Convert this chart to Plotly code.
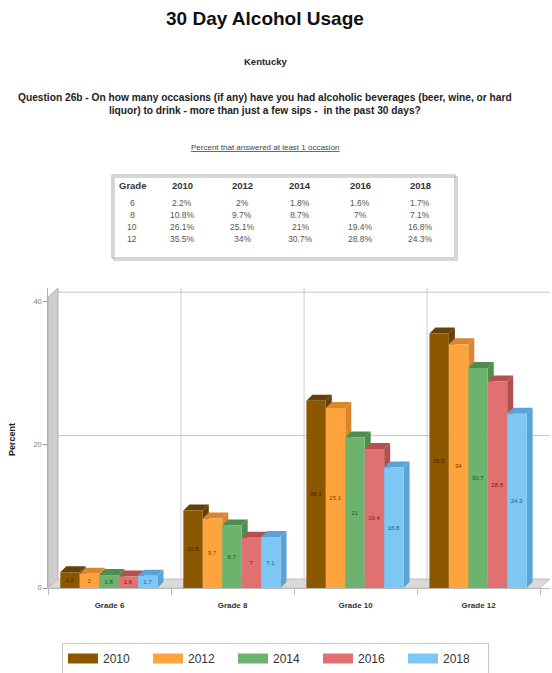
import plotly.graph_objects as go

# ---- data -------------------------------------------------------------
grades = ["Grade 6", "Grade 8", "Grade 10", "Grade 12"]
grade_nums = ["6", "8", "10", "12"]
years = ["2010", "2012", "2014", "2016", "2018"]
pct_2010 = [2.2, 10.8, 26.1, 35.5]
pct_2012 = [2.0, 9.7, 25.1, 34.0]
pct_2014 = [1.8, 8.7, 21.0, 30.7]
pct_2016 = [1.6, 7.0, 19.4, 28.8]
pct_2018 = [1.7, 7.1, 16.8, 24.3]
series = [pct_2010, pct_2012, pct_2014, pct_2016, pct_2018]
y_ticks = [0, 20, 40]

# ---- styling ----------------------------------------------------------
front_colors = ["#8b5800", "#ffa33d", "#6db26d", "#e07170", "#7dc7f5"]
shade_colors = ["#66400a", "#d9862c", "#4e8c4f", "#b5504f", "#5aa3d6"]
label_colors = ["#3a2300", "#7a4200", "#1d561d", "#7d1818", "#1b5a90"]
FONT = "Liberation Sans, Arial, sans-serif"

W, H = 552, 673
M_L, M_R, M_T, M_B = 48, 2, 288, 85
PLOT_W = W - M_L - M_R
PLOT_H = H - M_T - M_B
X_RANGE = [-0.5, 3.58]
Y_RANGE = [0, 41.84]
PX_X = PLOT_W / (X_RANGE[1] - X_RANGE[0])
PX_Y = PLOT_H / (Y_RANGE[1] - Y_RANGE[0])

# depth of the pseudo-3D bars and of the chart box
BAR_DX, BAR_DY = 6 / PX_X, 6 / PX_Y
WALL_DX, WALL_DY = 10 / PX_X, 9 / PX_Y

BAR_W = 0.158
GROUP_START = -0.40


def paper_x(px):
    return (px - M_L) / PLOT_W


def paper_y(py):
    return (H - M_B - py) / PLOT_H


def poly(pts):
    return "M " + " L ".join(f"{x:.4f},{y:.4f}" for x, y in pts) + " Z"


shapes = []

# left wall
x_l = X_RANGE[0]
shapes.append(dict(type="path", xref="x", yref="y", layer="below",
                   path=poly([(x_l, 0), (x_l + WALL_DX, WALL_DY),
                              (x_l + WALL_DX, Y_RANGE[1]),
                              (x_l, Y_RANGE[1] - WALL_DY)]),
                   fillcolor="#cdcdcd", line=dict(color="#b3b3b3", width=1)))
# floor
shapes.append(dict(type="path", xref="x", yref="y", layer="below",
                   path=poly([(x_l, 0), (x_l + WALL_DX, WALL_DY),
                              (X_RANGE[1], WALL_DY), (X_RANGE[1] - WALL_DX, 0)]),
                   fillcolor="#dadada", line=dict(color="#c0c0c0", width=1)))
# back-wall grid
for b in [0.5, 1.5, 2.5]:
    shapes.append(dict(type="line", xref="x", yref="y", layer="below",
                       x0=b + WALL_DX, x1=b + WALL_DX, y0=WALL_DY, y1=Y_RANGE[1],
                       line=dict(color="#cccccc", width=1)))
for t in y_ticks[1:]:
    shapes.append(dict(type="line", xref="x", yref="y", layer="below",
                       x0=x_l + WALL_DX, x1=X_RANGE[1], y0=t + WALL_DY, y1=t + WALL_DY,
                       line=dict(color="#c4c4c4", width=1)))

# top and side faces of each bar
for g in range(len(grades)):
    for k, vals in enumerate(series):
        v = vals[g]
        x0 = g + GROUP_START + k * BAR_W
        x1 = x0 + BAR_W
        shapes.append(dict(type="path", xref="x", yref="y", layer="below",
                           path=poly([(x1, 0), (x1 + BAR_DX, BAR_DY),
                                      (x1 + BAR_DX, v + BAR_DY), (x1, v)]),
                           fillcolor=shade_colors[k], line=dict(width=0)))
        shapes.append(dict(type="path", xref="x", yref="y", layer="below",
                           path=poly([(x0, v), (x0 + BAR_DX, v + BAR_DY),
                                      (x1 + BAR_DX, v + BAR_DY), (x1, v)]),
                           fillcolor=shade_colors[k], line=dict(width=0)))

fig = go.Figure()

for k, (yr, vals) in enumerate(zip(years, series)):
    xs = [g + GROUP_START + (k + 0.5) * BAR_W for g in range(len(grades))]
    fig.add_trace(go.Bar(
        x=xs, y=vals, width=BAR_W, name=yr, showlegend=False,
        marker=dict(color=front_colors[k], line=dict(width=0)),
        text=[f"{v:g}" for v in vals], textposition="inside",
        insidetextanchor="middle", textangle=0, constraintext="none",
        textfont=dict(family=FONT, size=6, color=label_colors[k]),
        hoverinfo="skip",
    ))

# legend entries
for k, yr in enumerate(years):
    fig.add_trace(go.Scatter(x=[None], y=[None], mode="lines", name=yr,
                             line=dict(color=front_colors[k], width=10),
                             hoverinfo="skip"))

annotations = []
annotations.append(dict(text="<b>30 Day Alcohol Usage</b>", x=paper_x(265), y=paper_y(18),
                        font=dict(family=FONT, size=19, color="#111")))
annotations.append(dict(text="<b>Kentucky</b>", x=paper_x(265), y=paper_y(62),
                        font=dict(family=FONT, size=9.5, color="#222")))
annotations.append(dict(
    text="<b>Question 26b - On how many occasions (if any) have you had alcoholic beverages (beer, wine, or hard"
         "<br>liquor) to drink - more than just a few sips -  in the past 30 days?</b>",
    x=paper_x(265), y=paper_y(104), font=dict(family=FONT, size=10.2, color="#222")))
annotations.append(dict(text="<u>Percent that answered at least 1 occasion</u>",
                        x=paper_x(265), y=paper_y(147),
                        font=dict(family=FONT, size=8, color="#444")))

# summary table
col_x = [132, 182, 242, 300, 360, 420]
row_y = [186, 203, 215, 227, 239]
header = ["Grade"] + years
for c, txt in enumerate(header):
    annotations.append(dict(text=f"<b>{txt}</b>", x=paper_x(col_x[c]), y=paper_y(row_y[0]),
                            font=dict(family=FONT, size=9.5, color="#333")))
for r, gnum in enumerate(grade_nums):
    cells = [gnum] + [f"{vals[r]:g}%" for vals in series]
    for c, txt in enumerate(cells):
        annotations.append(dict(text=txt, x=paper_x(col_x[c]), y=paper_y(row_y[r + 1]),
                                font=dict(family=FONT, size=8.5, color="#555")))
shapes.append(dict(type="rect", xref="paper", yref="paper",
                   x0=paper_x(114), x1=paper_x(457), y0=paper_y(260), y1=paper_y(177),
                   line=dict(color="#d8d8d8", width=2), fillcolor="rgba(0,0,0,0)"))
shapes.append(dict(type="rect", xref="paper", yref="paper",
                   x0=paper_x(112), x1=paper_x(455), y0=paper_y(258), y1=paper_y(175),
                   line=dict(color="#aaaaaa", width=1), fillcolor="rgba(0,0,0,0)"))

annotations.append(dict(text="<b>Percent</b>", x=paper_x(12), y=paper_y(440), textangle=-90,
                        font=dict(family=FONT, size=9, color="#222")))

for a in annotations:
    a.update(xref="paper", yref="paper", showarrow=False, xanchor="center", yanchor="middle")

fig.update_layout(
    width=W, height=H, autosize=False,
    margin=dict(l=M_L, r=M_R, t=M_T, b=M_B, autoexpand=False),
    paper_bgcolor="white", plot_bgcolor="white",
    barmode="overlay",
    showlegend=True,
    legend=dict(orientation="h", x=paper_x(62), y=paper_y(643), xanchor="left", yanchor="top",
                bordercolor="#c8c8c8", borderwidth=1, bgcolor="white",
                entrywidth=40, entrywidthmode="pixels",
                font=dict(family=FONT, size=12, color="#333")),
    xaxis=dict(range=X_RANGE, tickmode="array", tickvals=list(range(len(grades))),
               ticktext=grades, showgrid=False, zeroline=False,
               showline=True, linecolor="#bdbdbd", linewidth=1,
               ticks="outside", ticklen=9, tickcolor="rgba(0,0,0,0)",
               tickfont=dict(family=FONT, size=8, color="#333", weight="bold"),
               minor=dict(tickvals=[-0.5, 0.5, 1.5, 2.5, 3.5], ticks="outside",
                          ticklen=6, tickcolor="#bbbbbb", showgrid=False),
               fixedrange=True),
    yaxis=dict(range=Y_RANGE, tickmode="array", tickvals=y_ticks,
               showgrid=False, zeroline=False, showline=True, linecolor="#b0b0b0",
               ticks="outside", ticklen=4, tickcolor="#999999",
               tickfont=dict(family=FONT, size=7, color="#777"),
               fixedrange=True),
    shapes=shapes,
    annotations=annotations,
    hovermode=False,
)

fig.write_html("out.html")
